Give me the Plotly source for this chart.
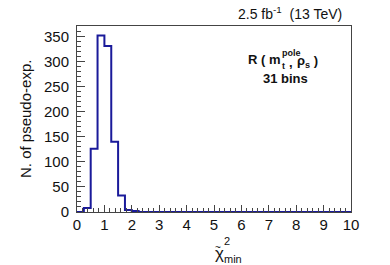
import plotly.graph_objects as go

# Histogram data: 40 bins of width 0.25 from 0 to 10
bin_edges = [i * 0.25 for i in range(41)]
counts = [0, 8, 126, 352, 331, 140, 33, 4, 2] + [0] * 31

x_ticks = list(range(0, 11))
y_ticks = list(range(0, 351, 50))

xs = bin_edges
ys = counts + [counts[-1]]

line_col = "#1a1a9a"
font = "Liberation Sans, Arial, sans-serif"
txt = "#111"
L, R, T, B = 77, 351, 26, 212
W, H = R - L, B - T


def px(x):
    return (x - L) / W


def py(y):
    return (B - y) / H


fig = go.Figure()
fig.add_trace(go.Scatter(x=xs, y=ys, mode="lines", line=dict(shape="hv", color=line_col, width=2),
                         hoverinfo="skip", showlegend=False))

axis_common = dict(showgrid=False, zeroline=False, showline=True, linecolor="#444", linewidth=1,
                   mirror=True, ticks="inside", tickcolor="#444", automargin=False,
                   tickfont=dict(family=font, size=15, color=txt))

fig.update_xaxes(range=[0, 10], tickvals=x_ticks, ticktext=[str(v) for v in x_ticks], ticklen=7,
                 ticklabelstandoff=-1,
                 minor=dict(dtick=0.2, ticks="inside", ticklen=4, tickcolor="#444"), **axis_common)
fig.update_yaxes(range=[0, 371], tickvals=y_ticks, ticktext=[str(v) for v in y_ticks], ticklen=8,
                 ticklabelstandoff=4,
                 minor=dict(dtick=10, ticks="inside", ticklen=4, tickcolor="#444"), **axis_common)

fig.update_layout(width=390, height=265, margin=dict(l=L, r=390 - R, t=T, b=265 - B),
                  paper_bgcolor="white", plot_bgcolor="white")


def ann(text, x, y, size, xanchor="center", angle=0):
    fig.add_annotation(text=text, xref="paper", yref="paper", x=px(x), y=py(y), textangle=angle,
                       xanchor=xanchor, yanchor="middle", showarrow=False, borderpad=0,
                       font=dict(family=font, size=size, color=txt))


ann("N. of pseudo-exp.", 25, 119, 15, angle=-90)
ann("2.5 fb<sup>-1</sup>  (13 TeV)", 343, 13, 14, xanchor="right")

# R ( m_t^pole , rho_s )
ann("<b>R ( m</b>", 282, 60, 13, xanchor="right")
ann("<b>pole</b>", 281, 53, 9, xanchor="left")
ann("<b>t</b>", 281, 66, 9, xanchor="left")
ann("<b>,</b>", 291, 62, 13, xanchor="center")
ann("<b>ρ<sub>s</sub> )</b>", 296, 61, 13, xanchor="left")
ann("<b>31 bins</b>", 285, 78, 13)

# x title: chi-tilde squared, min
ann("χ", 219, 253, 17)
ann("~", 218, 247, 10)
ann("2", 227, 241, 11)
ann("min", 233, 259, 11)

fig.write_html("out.html", config={"displayModeBar": False},
               post_script="document.body.style.margin='0';")
